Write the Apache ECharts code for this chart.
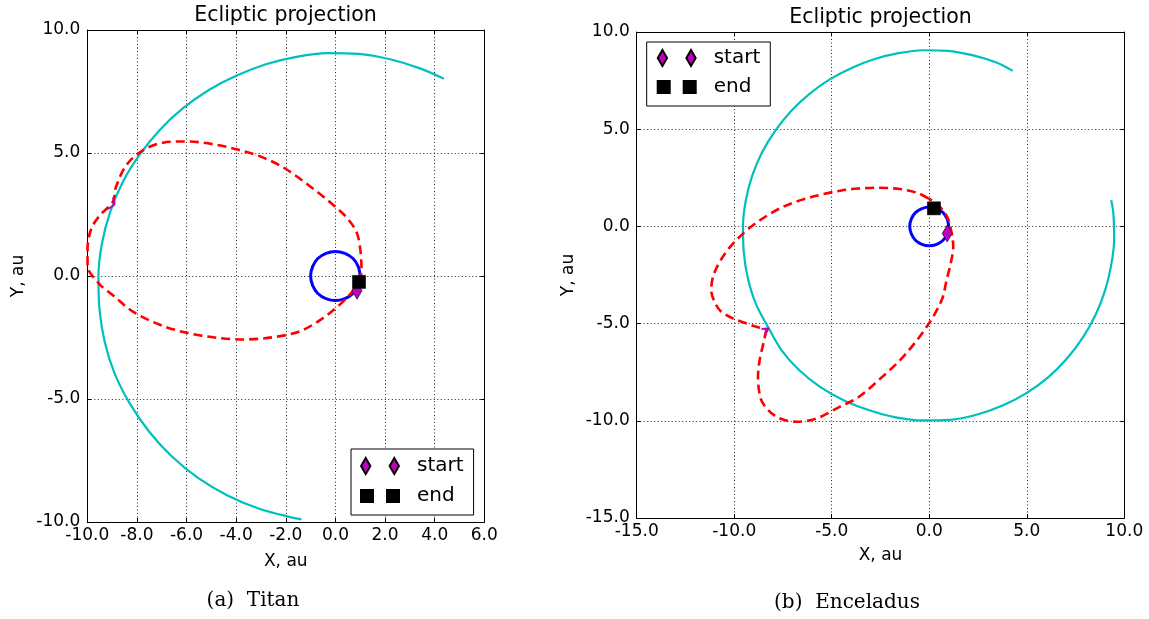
<!DOCTYPE html>
<html><head><meta charset="utf-8">
<script src="https://cdn.jsdelivr.net/npm/echarts/dist/echarts.min.js"></script>
<style>html,body{margin:0;padding:0;background:#fff}#c{width:1149px;height:619px}</style>
</head><body><div id="c"></div>
<script>
// ---------- data (au) ----------
const titanXRange = [-10, 6, 2];
const titanYRange = [-10, 10, 5];
const encXRange = [-15, 10, 5];
const encYRange = [-15, 10, 5];

const earthOrbit = [[1,0],[0.92,0.38],[0.71,0.71],[0.38,0.92],[0,1],[-0.38,0.92],[-0.71,0.71],[-0.92,0.38],[-1,0],[-0.92,-0.38],[-0.71,-0.71],[-0.38,-0.92],[0,-1],[0.38,-0.92],[0.71,-0.71],[0.92,-0.38],[1,0]];

const titanSaturnOrbit = [[4.37,8.02],[3.41,8.44],[2.20,8.81],[0.95,9.03],[-0.32,9.06],[-1.57,8.91],[-2.80,8.61],[-3.98,8.15],[-5.10,7.56],[-6.14,6.82],[-7.08,5.94],[-7.89,4.93],[-8.57,3.82],[-9.08,2.60],[-9.41,1.32],[-9.55,0],[-9.51,-1.34],[-9.30,-2.67],[-8.90,-3.96],[-8.29,-5.18],[-7.52,-6.31],[-6.60,-7.33],[-5.54,-8.21],[-4.35,-8.92],[-3.07,-9.46],[-1.73,-9.82],[-1.37,-9.89]];
const titanTransfer = [[0.95,-0.24],[1.05,0.2],[1.0,1.1],[0.85,1.79],[0.45,2.38],[-0.1,2.9],[-1.04,3.66],[-2.11,4.42],[-3.0,4.85],[-3.9,5.13],[-4.94,5.36],[-6.0,5.47],[-6.95,5.42],[-7.76,5.11],[-8.43,4.5],[-8.85,3.6],[-8.97,3.01],[-9.5,2.46],[-9.84,1.92],[-9.99,1.11],[-9.99,0.43],[-9.5,-0.34],[-8.97,-0.78],[-8.16,-1.45],[-7.08,-1.98],[-6.0,-2.31],[-4.8,-2.51],[-3.73,-2.58],[-2.52,-2.49],[-1.44,-2.25],[-0.5,-1.71],[0.31,-1.04],[0.78,-0.51],[0.95,-0.24]];
const titanArrival = [[-8.97,3.2],[-8.9,2.95],[-9.2,2.72]];
const titanStart = [[0.87,-0.6]];
const titanEnd = [[0.95,-0.24]];

const encSaturnOrbit = [[4.28,8.0],[3.41,8.44],[2.20,8.81],[0.95,9.03],[-0.32,9.06],[-1.57,8.91],[-2.80,8.61],[-3.98,8.15],[-5.10,7.56],[-6.14,6.82],[-7.08,5.94],[-7.89,4.93],[-8.57,3.82],[-9.08,2.60],[-9.41,1.32],[-9.55,0],[-9.51,-1.34],[-9.30,-2.67],[-8.90,-3.96],[-8.27,-5.17],[-7.58,-6.36],[-6.66,-7.40],[-5.58,-8.27],[-4.37,-8.95],[-3.07,-9.46],[-1.73,-9.82],[-0.35,-9.98],[1.05,-9.95],[2.42,-9.69],[3.73,-9.23],[4.96,-8.59],[6.08,-7.78],[7.05,-6.81],[7.87,-5.72],[8.53,-4.54],[9.02,-3.28],[9.33,-1.98],[9.48,-0.66],[9.44,0.66],[9.33,1.35]];
const encTransferOut = [[-0.05,1.44],[-0.6,1.72],[-1.5,1.92],[-2.65,1.99],[-3.6,1.95],[-4.5,1.85],[-6.0,1.52],[-7.49,1.01],[-8.79,0.24],[-9.72,-0.53],[-10.47,-1.39],[-11.03,-2.42],[-11.18,-3.28],[-11.0,-3.9],[-10.7,-4.35],[-10.07,-4.73],[-8.87,-5.16],[-8.35,-5.3]];
const encTransferBack = [[-8.35,-5.3],[-8.5,-6.0],[-8.7,-6.9],[-8.78,-7.74],[-8.72,-8.5],[-8.53,-9.1],[-7.84,-9.79],[-6.81,-10.05],[-5.78,-9.88],[-4.59,-9.28],[-3.65,-8.8],[-2.6,-7.91],[-1.34,-6.71],[-0.13,-5.16],[0.64,-3.79],[0.89,-2.76],[1.1,-1.9],[1.23,-1.05],[1.15,-0.36],[0.92,0.49],[0.38,1.18],[-0.05,1.44]];
const encArrival = [[-8.6,-5.28],[-8.25,-5.25],[-8.4,-5.55]];
const encStart = [[0.92,-0.36]];
const encEnd = [[0.24,0.93]];

// ---------- styling ----------
const FONT = 'DejaVu Sans';
const diamond = 'path://M5,0L10,8L5,16L0,8Z';
const diamondPair = 'path://M0,8L4.65,0L9.3,8L4.65,16Z M28.6,8L33.25,0L37.9,8L33.25,16Z';
const squarePair = 'path://M0,0L12,0L12,12L0,12Z M26,0L38,0L38,12L26,12Z';

function axis(gi, r, pos, main, nameTxt, nameGap) {
  const isX = pos === 'bottom' || pos === 'top';
  return {
    type: 'value', gridIndex: gi, position: pos,
    min: r[0], max: r[1], interval: r[2],
    name: main ? nameTxt : '', nameLocation: 'middle', nameGap: nameGap,
    nameTextStyle: {fontFamily: FONT, fontSize: 17, color: '#000'},
    axisLine: {show: true, onZero: false, lineStyle: {color: '#000', width: 1}},
    axisTick: {show: true, inside: true, length: 4, lineStyle: {color: '#000', width: 1}},
    axisLabel: {show: main, formatter: v => v.toFixed(1), fontFamily: FONT, fontSize: 17, color: '#000', margin: isX ? 5 : 7, showMinLabel: true, showMaxLabel: true, hideOverlap: false},
    splitLine: {show: main, lineStyle: {color: '#222', width: 1, type: [1, 2.5]}}
  };
}
function line(xi, data, color, width, type, name) {
  return {type: 'line', name: name, xAxisIndex: xi, yAxisIndex: xi, data: data, showSymbol: false, symbol: 'none',
    smooth: 0.33, lineStyle: {color: color, width: width, type: type, join: 'round', cap: 'butt'}, itemStyle: {color: color}, silent: true, z: 2};
}
function marker(xi, data, name, sym, size, color, z) {
  return {type: 'scatter', name: name, xAxisIndex: xi, yAxisIndex: xi, data: data, symbol: sym, symbolSize: size,
    itemStyle: {color: color, borderColor: '#000', borderWidth: 0.6, opacity: 1}, silent: true, z: z};
}
function legend(left, top, pad, gap) {
  return {left: left, top: top, orient: 'vertical', selectedMode: false,
    data: [{name: 'start', icon: diamondPair}, {name: 'end', icon: squarePair}],
    itemWidth: 38, itemHeight: 16, itemGap: gap, padding: pad,
    borderColor: '#000', borderWidth: 1, borderRadius: 0, backgroundColor: '#fff',
    textStyle: {fontFamily: FONT, fontSize: 20, lineHeight: 20, color: '#000', padding: [0, 0, 0, 13]}};
}
function ttl(text, x, y, fam, size) {
  return {text: text, left: x, top: y, textAlign: 'center', textVerticalAlign: 'middle', padding: 0,
    textStyle: {fontFamily: fam, fontSize: size, fontWeight: 'normal', color: '#000'}};
}

const chart = echarts.init(document.getElementById('c'), null, {renderer: 'canvas'});
chart.setOption({
  animation: false,
  backgroundColor: '#fff',
  title: [
    ttl('Ecliptic projection', 285.5, 16, FONT, 20.5),
    ttl('Ecliptic projection', 880.5, 18, FONT, 20.5),
    ttl('(a)  Titan', 253, 601, 'DejaVu Serif', 20),
    ttl('(b)  Enceladus', 847, 603, 'DejaVu Serif', 20)
  ],
  grid: [
    {left: 87.3, right: 664.7, top: 30, bottom: 97, outerBoundsMode: 'none', containLabel: false},
    {left: 636.7, right: 24.7, top: 32, bottom: 101, outerBoundsMode: 'none', containLabel: false}
  ],
  xAxis: [
    axis(0, titanXRange, 'bottom', true, 'X, au', 31),
    axis(1, encXRange, 'bottom', true, 'X, au', 29),
    axis(0, titanXRange, 'top', false, '', 0),
    axis(1, encXRange, 'top', false, '', 0)
  ],
  yAxis: [
    axis(0, titanYRange, 'left', true, 'Y, au', 60),
    axis(1, encYRange, 'left', true, 'Y, au', 60),
    axis(0, titanYRange, 'right', false, '', 0),
    axis(1, encYRange, 'right', false, '', 0)
  ],
  legend: [legend(351, 449, [7, 10, 9, 9], 10), legend(646.7, 42, [6, 10, 9, 10], 9)],
  series: [
    line(0, titanSaturnOrbit, '#00bfbf', 2.2, 'solid', 'saturn'),
    line(0, earthOrbit, '#0000ff', 3, 'solid', 'earth'),
    line(0, titanTransfer, '#ff0000', 2.6, [9, 5], 'transfer'),
    line(0, titanArrival, '#bf00bf', 2, 'solid', 'arrival'),
    marker(0, titanStart, 'start', diamond, [10, 17], '#bf00bf', 5),
    marker(0, titanEnd, 'end', 'rect', 13, '#000', 6),
    line(1, encSaturnOrbit, '#00bfbf', 2.2, 'solid', 'saturn'),
    line(1, earthOrbit, '#0000ff', 3, 'solid', 'earth'),
    line(1, encTransferOut, '#ff0000', 2.6, [9, 5], 'transfer'),
    line(1, encTransferBack, '#ff0000', 2.6, [9, 5], 'transfer'),
    line(1, encArrival, '#bf00bf', 2, 'solid', 'arrival'),
    marker(1, encStart, 'start', diamond, [10, 17], '#bf00bf', 5),
    marker(1, encEnd, 'end', 'rect', 13, '#000', 6)
  ]
});
</script></body></html>
